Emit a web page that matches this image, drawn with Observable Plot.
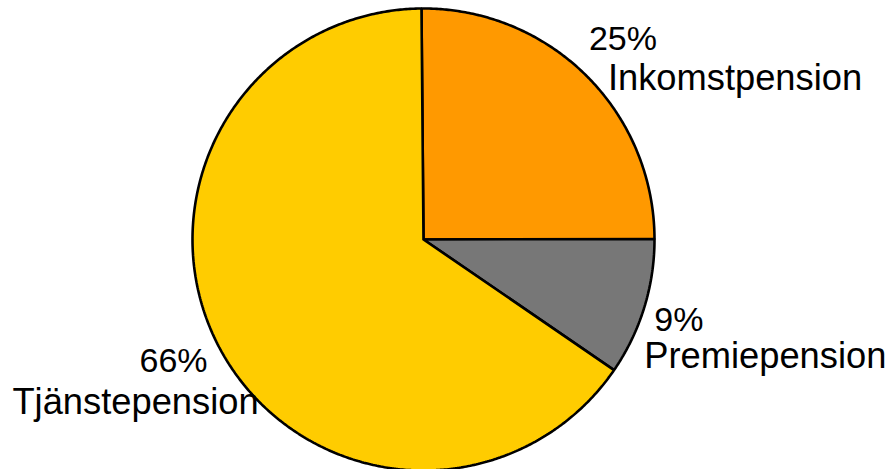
<!DOCTYPE html>
<html><head><meta charset="utf-8">
<script src="https://cdn.jsdelivr.net/npm/d3@7"></script>
<script src="https://cdn.jsdelivr.net/npm/@observablehq/plot@0.6"></script>
<style>body{margin:0;background:#fff}svg{display:block}</style>
</head><body><div id="chart"></div>
<script>
const categories = ["Inkomstpension", "Premiepension", "Tjänstepension"];
const shares = [25.1, 9.6, 65.3];
const percentLabels = ["25%", "9%", "66%"];
const colors = ["#FF9900", "#777777", "#FFCC00"];

const data = categories.map((c, i) => ({category: c, value: shares[i], pct: percentLabels[i]}));
const startAngle = -0.5 * Math.PI / 180;
const arcs = d3.pie().sort(null).value(d => d.value)
  .startAngle(startAngle).endAngle(startAngle + 2 * Math.PI)(data);

// polygon points in unit-circle data space (clockwise from top)
const pts = [];
arcs.forEach(a => {
  const n = Math.max(4, Math.ceil((a.endAngle - a.startAngle) * 120));
  pts.push({category: a.data.category, x: 0, y: 0});
  for (let k = 0; k <= n; k++) {
    const t = a.startAngle + (a.endAngle - a.startAngle) * k / n;
    pts.push({category: a.data.category, x: Math.sin(t), y: Math.cos(t)});
  }
  pts.push({category: a.data.category, x: 0, y: 0});
});
const anchors = arcs.map(a => {
  const m = (a.startAngle + a.endAngle) / 2;
  return {category: a.data.category, pct: a.data.pct, x: Math.sin(m), y: Math.cos(m)};
});
const sel = c => anchors.filter(d => d.category === c);
const font = "Liberation Sans, Arial, sans-serif";
const nameSize = 36.3, pctSize = 34;

const chart = Plot.plot({
  width: 895, height: 469,
  margin: 0,
  x: {domain: [-1, 1], range: [192, 654], axis: null},
  y: {domain: [-1, 1], range: [470, 8], axis: null},
  color: {domain: categories, range: colors},
  style: {fontFamily: font, background: "#fff"},
  marks: [
    Plot.line(pts, {x: "x", y: "y", z: "category", fill: "category", stroke: "#000", strokeWidth: 2.6, strokeLinejoin: "miter", curve: "linear"}),
    // Inkomstpension
    Plot.text(sel("Inkomstpension"), {x: "x", y: "y", text: "pct", textAnchor: "start", lineAnchor: "bottom", dx: 3, dy: -25, fontSize: pctSize, fill: "#000"}),
    Plot.text(sel("Inkomstpension"), {x: "x", y: "y", text: "category", textAnchor: "start", lineAnchor: "bottom", dx: 22, dy: 15, fontSize: nameSize, fill: "#000"}),
    // Premiepension
    Plot.text(sel("Premiepension"), {x: "x", y: "y", text: "pct", textAnchor: "start", lineAnchor: "bottom", dx: 10, dy: 23, fontSize: pctSize, fill: "#000"}),
    Plot.text(sel("Premiepension"), {x: "x", y: "y", text: "category", textAnchor: "start", lineAnchor: "bottom", dx: 0, dy: 60, fontSize: nameSize, fill: "#000"}),
    // Tjänstepension
    Plot.text(sel("Tjänstepension"), {x: "x", y: "y", text: "pct", textAnchor: "end", lineAnchor: "bottom", dx: -12, dy: 24, fontSize: pctSize, fill: "#000"}),
    Plot.text(sel("Tjänstepension"), {x: "x", y: "y", text: "category", textAnchor: "end", lineAnchor: "bottom", dx: 39, dy: 66, fontSize: nameSize, fill: "#000"})
  ]
});
document.getElementById("chart").appendChild(chart);
</script>
</body></html>
